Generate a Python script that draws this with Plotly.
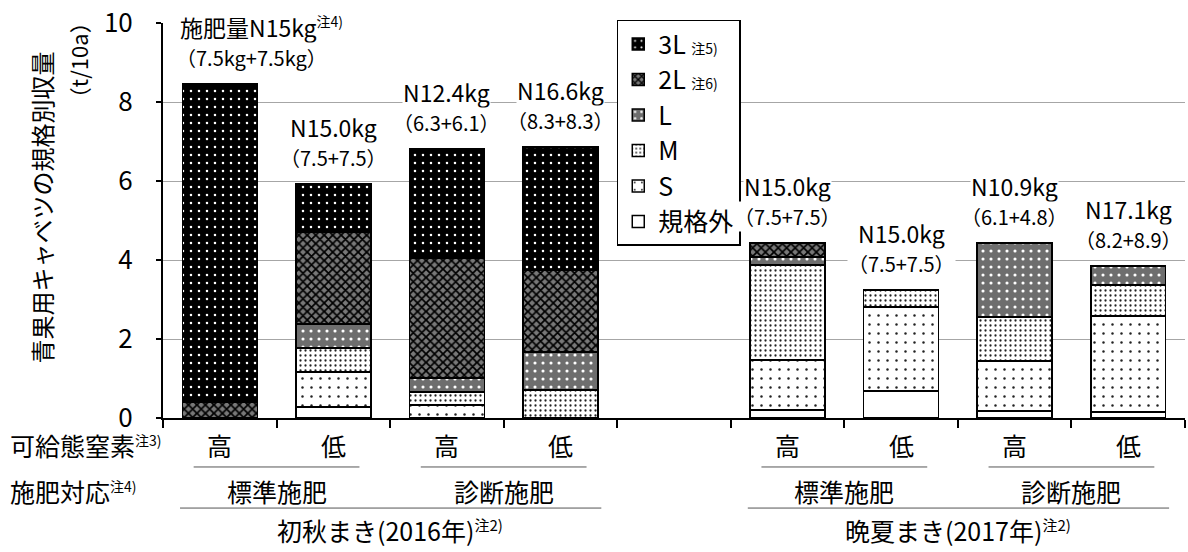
import plotly.graph_objects as go

FONT = "Noto Sans CJK JP"

categories = ["初秋・高・標準", "初秋・低・標準", "初秋・高・診断", "初秋・低・診断", " ",
              "晩夏・高・標準", "晩夏・低・標準", "晩夏・高・診断", "晩夏・低・診断"]

out_of_grade = [0, 0.28, 0, 0, None, 0.20, 0.68, 0.18, 0.15]
size_S = [0, 0.88, 0.33, 0, None, 1.27, 2.13, 1.26, 2.43]
size_M = [0, 0.61, 0.33, 0.71, None, 2.40, 0.43, 1.12, 0.79]
size_L = [0, 0.61, 0.35, 0.96, None, 0.21, 0, 1.87, 0.48]
size_2L = [0.41, 2.33, 3.04, 2.08, None, 0.35, 0, 0, 0]
size_3L = [8.05, 1.21, 2.76, 3.11, None, 0, 0, 0, 0]

n_label = ["施肥量N15kg", "N15.0kg", "N12.4kg", "N16.6kg", "", "N15.0kg", "N15.0kg", "N10.9kg", "N17.1kg"]
split_label = ["（7.5kg+7.5kg）", "（7.5+7.5）", "（6.3+6.1）", "（8.3+8.3）", "",
               "（7.5+7.5）", "（7.5+7.5）", "（6.1+4.8）", "（8.2+8.9）"]
nitrogen_level = ["高", "低", "高", "低", "", "高", "低", "高", "低"]
fert_groups = [("標準施肥", 0, 1), ("診断施肥", 2, 3), ("標準施肥", 5, 6), ("診断施肥", 7, 8)]
season_groups = [("初秋まき(2016年)", 0, 3), ("晩夏まき(2017年)", 5, 8)]
y_ticks = [0, 2, 4, 6, 8, 10]

series = [
    ("規格外", out_of_grade, dict(shape="", bgcolor="white", fgcolor="white")),
    ("S", size_S, dict(shape=".", bgcolor="white", fgcolor="#222", size=9, solidity=0.06)),
    ("M", size_M, dict(shape=".", bgcolor="white", fgcolor="#222", size=5, solidity=0.16)),
    ("L", size_L, dict(shape=".", bgcolor="#6e6e6e", fgcolor="white", size=8, solidity=0.12)),
    ("2L <span style='font-size:14px'>注6)</span>", size_2L,
     dict(shape="x", bgcolor="#787878", fgcolor="#000", size=6, solidity=0.5)),
    ("3L <span style='font-size:14px'>注5)</span>", size_3L,
     dict(shape=".", bgcolor="black", fgcolor="white", size=8, solidity=0.08)),
]

fig = go.Figure()
for name, vals, pat in series:
    pat = dict(pat, fillmode="replace")
    fig.add_trace(go.Bar(
        x=categories, y=vals, name=name,
        marker=dict(color="white", pattern=pat, line=dict(color="black", width=1.5)),
    ))

totals = []
for i in range(len(categories)):
    vals = [s[1][i] for s in series]
    totals.append(None if vals[0] is None else sum(vals))

annotations = []
for i, c in enumerate(categories):
    if totals[i] is None:
        continue
    if i == 0:
        t1 = n_label[i] + "<sup><span style='font-size:14px'>注4)</span></sup>"
        xs1, xs2 = 42, 32
    else:
        t1 = n_label[i]
        xs1, xs2 = 0, 0
    annotations.append(dict(x=c, y=totals[i], xref="x", yref="y", text=t1, showarrow=False,
                            yanchor="bottom", yshift=39, xshift=xs1, bgcolor="white", borderpad=0,
                            font=dict(size=23, family=FONT, color="black")))
    annotations.append(dict(x=c, y=totals[i], xref="x", yref="y", text=split_label[i], showarrow=False,
                            yanchor="bottom", yshift=11, xshift=xs2, bgcolor="white", borderpad=0,
                            font=dict(size=20, family=FONT, color="black")))

# bottom multi-level labels (paper coordinates below the plot area)
ROW1, ROW2, ROW3 = -0.068, -0.184, -0.284
LINE1, LINE2 = -0.124, -0.228
for i, lev in enumerate(nitrogen_level):
    if lev:
        annotations.append(dict(x=categories[i], y=ROW1, xref="x", yref="paper", text=lev, showarrow=False,
                                yanchor="middle", font=dict(size=25, family=FONT, color="black")))
for name, a, b in fert_groups:
    annotations.append(dict(x=(a + b) / 2, y=ROW2, xref="x", yref="paper", text=name, showarrow=False,
                            yanchor="middle", font=dict(size=25, family=FONT, color="black")))
for name, a, b in season_groups:
    annotations.append(dict(x=(a + b) / 2, y=ROW3, xref="x", yref="paper",
                            text=name + "<sup><span style='font-size:15px'>注2)</span></sup>",
                            yanchor="middle", showarrow=False, font=dict(size=25, family=FONT, color="black")))
annotations.append(dict(x=-0.152, y=ROW1, xref="paper", yref="paper", xanchor="left", yanchor="middle",
                        text="可給態窒素<sup><span style='font-size:14px'>注3)</span></sup>", showarrow=False,
                        font=dict(size=25, family=FONT, color="black")))
annotations.append(dict(x=-0.152, y=ROW2, xref="paper", yref="paper", xanchor="left", yanchor="middle",
                        text="施肥対応<sup><span style='font-size:14px'>注4)</span></sup>", showarrow=False,
                        font=dict(size=25, family=FONT, color="black")))
# y axis title
annotations.append(dict(x=-0.119, y=0.534, xref="paper", yref="paper", xanchor="center", yanchor="middle",
                        text="青果用キャベツの規格別収量",
                        textangle=-90, showarrow=False, font=dict(size=24, family=FONT, color="black")))
annotations.append(dict(x=-0.083, y=0.906, xref="paper", yref="paper", xanchor="center", yanchor="middle",
                        text="（t/10a）",
                        textangle=-90, showarrow=False, font=dict(size=22, family=FONT, color="black")))

shapes = []
for name, a, b in fert_groups:
    shapes.append(dict(type="line", xref="x", yref="paper", x0=a - 0.23, x1=b + 0.23, y0=LINE1, y1=LINE1,
                       line=dict(color="#555", width=1)))
for name, a, b in season_groups:
    shapes.append(dict(type="line", xref="x", yref="paper", x0=a - 0.35, x1=b + 0.36, y0=LINE2, y1=LINE2,
                       line=dict(color="#555", width=1)))

fig.update_layout(
    width=1188, height=552,
    margin=dict(l=163, r=3, t=23, b=134),
    barmode="stack", bargap=0.34,
    plot_bgcolor="white", paper_bgcolor="white",
    font=dict(family=FONT, color="black"),
    annotations=annotations, shapes=shapes,
    legend=dict(x=0.444, y=1.008, xanchor="left", yanchor="top", traceorder="reversed",
                itemwidth=30, bgcolor="white", bordercolor="black", borderwidth=1.5,
                font=dict(size=25, family=FONT, color="black")),
)
fig.update_xaxes(type="category", categoryorder="array", categoryarray=categories,
                 range=[-0.5, 8.5], showticklabels=False, ticks="outside", tickson="boundaries",
                 ticklen=8, tickwidth=2, tickcolor="black",
                 showline=True, linecolor="black", linewidth=2, showgrid=False)
fig.update_yaxes(range=[0, 10], tickvals=y_ticks, ticks="outside", ticklen=5, tickwidth=1.5,
                 tickcolor="black", showline=True, linecolor="black", linewidth=2,
                 showgrid=True, gridcolor="#a6a6a6", gridwidth=1, zeroline=False,
                 tickfont=dict(size=26, family=FONT, color="black"), ticklabelstandoff=18)

fig.write_html("out.html", config={"displayModeBar": False},
               post_script="document.body.style.margin='0';document.body.style.overflow='hidden';")
